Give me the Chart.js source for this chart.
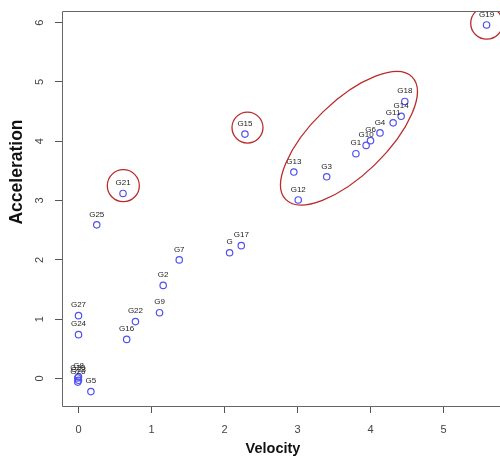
<!DOCTYPE html>
<html>
<head>
<meta charset="utf-8">
<script src="https://cdn.jsdelivr.net/npm/chart.js@4.4.0/dist/chart.umd.min.js"></script>
<style>
  html, body { margin: 0; padding: 0; background: #fff; overflow: hidden; }
  #wrap { width: 500px; height: 462px; }
</style>
</head>
<body>
<div id="wrap"><canvas id="plot" width="500" height="462"></canvas></div>
<script>
/* group labels with their velocity / acceleration readings */
const names = ['G1', 'G2', 'G3', 'G4', 'G5', 'G6', 'G7', 'G8', 'G9', 'G10',
  'G11', 'G12', 'G13', 'G14', 'G15', 'G16', 'G17', 'G18', 'G19', 'G20',
  'G21', 'G22', 'G23', 'G24', 'G25', 'G26', 'G27', 'G'];
const velocity = [3.80, 1.16, 3.40, 4.13, 0.17, 4.00, 1.38, 0.00, 1.11, 3.94,
  4.31, 3.01, 2.95, 4.42, 2.28, 0.66, 2.23, 4.47, 5.59, -0.01,
  0.61, 0.78, 0.00, 0.00, 0.25, -0.01, 0.00, 2.07];
const acceleration = [3.79, 1.57, 3.40, 4.14, -0.22, 4.01, 2.00, 0.03, 1.11, 3.93,
  4.31, 3.01, 3.48, 4.42, 4.12, 0.66, 2.24, 4.67, 5.96, 0.01,
  3.12, 0.96, -0.03, 0.74, 2.59, -0.06, 1.06, 2.12];

const xTicks = [0, 1, 2, 3, 4, 5];
const yTicks = [0, 1, 2, 3, 4, 5, 6];

/* highlighted groups: circles round single groups, one ellipse round the upper cluster */
const circled = [
  { x: 0.614, y: 3.25, r: 16 },
  { x: 2.315, y: 4.23, r: 15.5 },
  { x: 5.592, y: 5.99, r: 16 },
];
const cluster = { x: 3.705, y: 4.05, a: 88, b: 37, angle: 44 };

const RED = '#bb2a2a';
const BLUE = '#5050f0';
const FONT = '"Liberation Sans", Arial, sans-serif';

const decorations = {
  id: 'decorations',
  afterDatasetsDraw(chart) {
    const { ctx, chartArea: a, scales: { x, y } } = chart;
    const pts = chart.getDatasetMeta(0).data;

    ctx.save();
    ctx.beginPath();
    ctx.rect(a.left, a.top, a.right - a.left, a.bottom - a.top);
    ctx.clip();

    // point names above each marker
    ctx.fillStyle = '#222';
    ctx.font = '8px ' + FONT;
    ctx.textAlign = 'center';
    ctx.textBaseline = 'middle';
    pts.forEach((p, i) => ctx.fillText(names[i], p.x, p.y - 10.5));

    // red highlight shapes
    ctx.strokeStyle = RED;
    ctx.lineWidth = 1.3;
    circled.forEach(c => {
      ctx.beginPath();
      ctx.arc(x.getPixelForValue(c.x), y.getPixelForValue(c.y), c.r, 0, Math.PI * 2);
      ctx.stroke();
    });
    ctx.beginPath();
    ctx.ellipse(x.getPixelForValue(cluster.x), y.getPixelForValue(cluster.y),
      cluster.a, cluster.b, -cluster.angle * Math.PI / 180, 0, Math.PI * 2);
    ctx.stroke();
    ctx.restore();
  },
  afterDraw(chart) {
    const { ctx, chartArea: a, scales: { x, y } } = chart;
    ctx.save();

    // frame round the plot region (right side runs past the canvas edge)
    ctx.strokeStyle = '#666';
    ctx.lineWidth = 1;
    ctx.beginPath();
    ctx.moveTo(a.right + 4, a.top + 0.5);
    ctx.lineTo(a.left + 0.5, a.top + 0.5);
    ctx.lineTo(a.left + 0.5, a.bottom + 0.5);
    ctx.lineTo(a.right + 4, a.bottom + 0.5);
    ctx.stroke();

    // tick labels
    ctx.fillStyle = '#444';
    ctx.font = '11px ' + FONT;
    ctx.textAlign = 'center';
    ctx.textBaseline = 'middle';
    xTicks.forEach(v => ctx.fillText(String(v), x.getPixelForValue(v), 430));
    yTicks.forEach(v => {
      ctx.save();
      ctx.translate(40, y.getPixelForValue(v));
      ctx.rotate(-Math.PI / 2);
      ctx.fillText(String(v), 0, 0);
      ctx.restore();
    });

    // axis titles
    ctx.fillStyle = '#111';
    ctx.font = 'bold 14.5px ' + FONT;
    ctx.fillText('Velocity', 273, 449);
    ctx.font = 'bold 17.5px ' + FONT;
    ctx.save();
    ctx.translate(17.5, 172);
    ctx.rotate(-Math.PI / 2);
    ctx.fillText('Acceleration', 0, 0);
    ctx.restore();

    ctx.restore();
  },
};

new Chart(document.getElementById('plot'), {
  type: 'scatter',
  data: {
    datasets: [{
      data: velocity.map((v, i) => ({ x: v, y: acceleration[i] })),
      pointStyle: 'circle',
      pointRadius: 3.2,
      pointBorderWidth: 1.2,
      pointBorderColor: BLUE,
      pointBackgroundColor: 'rgba(0,0,0,0)',
      pointHoverRadius: 3.2,
    }],
  },
  options: {
    responsive: false,
    animation: false,
    events: [],
    layout: { autoPadding: false, padding: { top: 11, right: 0, left: 0, bottom: 0 } },
    plugins: { legend: { display: false }, tooltip: { enabled: false } },
    scales: {
      x: {
        type: 'linear',
        min: -0.226,
        max: 5.774,
        afterBuildTicks: s => { s.ticks = xTicks.map(v => ({ value: v })); },
        afterFit: s => { s.height = 56; },
        border: { display: false },
        grid: { drawOnChartArea: false, drawTicks: true, tickLength: 7, color: '#555' },
        ticks: { display: false },
      },
      y: {
        type: 'linear',
        min: -0.463,
        max: 6.195,
        afterBuildTicks: s => { s.ticks = yTicks.map(v => ({ value: v })); },
        afterFit: s => { s.width = 62; },
        border: { display: false },
        grid: { drawOnChartArea: false, drawTicks: true, tickLength: 7, color: '#555' },
        ticks: { display: false },
      },
    },
  },
  plugins: [decorations],
});
</script>
</body>
</html>
